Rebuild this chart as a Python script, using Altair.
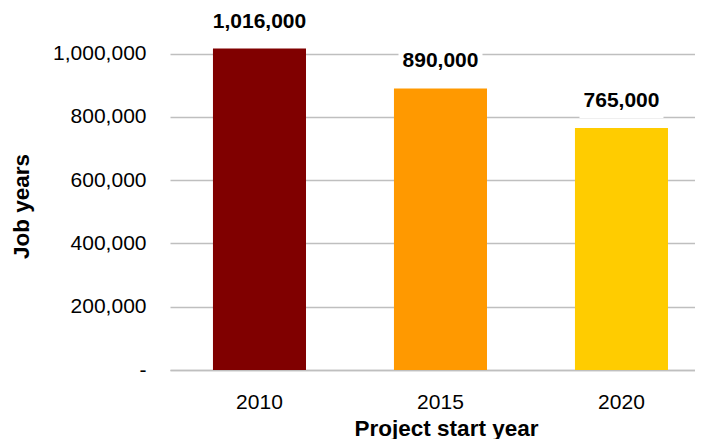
import altair as alt
import pandas as pd

years = ["2010", "2015", "2020"]
values = [1016000, 890000, 765000]
labels = ["1,016,000", "890,000", "765,000"]
colors = ["#800000", "#FF9900", "#FFCC00"]
y_ticks = [0, 200000, 400000, 600000, 800000, 1000000]

df = pd.DataFrame({"year": years, "value": values, "label": labels})

FONT = "Liberation Sans"
GRID = "#bfbfbf"

x_enc = alt.X(
    "year:N",
    sort=years,
    scale=alt.Scale(paddingInner=0.486, paddingOuter=0.1933, align=0.614),
    axis=alt.Axis(
        title="Project start year",
        labelAngle=0,
        labelFontSize=21,
        labelFont=FONT,
        labelColor="black",
        labelBaseline="alphabetic",
        labelPadding=38,
        ticks=False,
        tickSize=0,
        domain=True,
        domainColor=GRID,
        domainWidth=1.5,
        grid=False,
        titleFont=FONT,
        titleFontSize=22.5,
        titleFontWeight="bold",
        titleColor="black",
        titleBaseline="alphabetic",
        titleAlign="center",
        titleX=276,
        titleY=65,
    ),
)

y_scale = alt.Scale(domain=[0, 1100000], nice=False)

bars = alt.Chart(df).mark_bar().encode(
    x=x_enc,
    y=alt.Y(
        "value:Q",
        scale=y_scale,
        axis=alt.Axis(
            title="Job years",
            values=y_ticks,
            labelExpr="datum.value == 0 ? '-\u00a0\u00a0\u00a0\u00a0' : format(datum.value, ',')",
            labelFontSize=21,
            labelFont=FONT,
            labelColor="black",
            labelPadding=24,
            ticks=False,
            tickSize=0,
            domain=False,
            grid=True,
            gridColor=GRID,
            gridWidth=1.5,
            titleFont=FONT,
            titleFontSize=22.5,
            titleFontWeight="bold",
            titleColor="black",
            titleAngle=270,
            titleBaseline="alphabetic",
            titleAlign="center",
            titleX=-142,
            titleY=184,
        ),
    ),
    color=alt.Color("year:N", scale=alt.Scale(domain=years, range=colors), legend=None),
)

boxes = (
    alt.Chart(df)
    .transform_calculate(value2="datum.value", boxw="length(datum.label) * 11 + 7")
    .mark_bar(color="white", yOffset=-42, y2Offset=-10)
    .encode(
        x=alt.X("year:N", sort=years),
        y=alt.Y("value:Q", scale=y_scale),
        y2="value2:Q",
        size=alt.Size("boxw:Q", scale=None, legend=None),
    )
)

text = alt.Chart(df).mark_text(
    font=FONT, fontSize=21, fontWeight="bold", color="black",
    baseline="alphabetic", dy=-21,
).encode(
    x=alt.X("year:N", sort=years),
    y=alt.Y("value:Q", scale=y_scale),
    text="label:N",
)

chart = (
    alt.layer(bars, boxes, text)
    .properties(
        width=525,
        height=348,
        autosize=alt.AutoSizeParams(type="none"),
        padding={"left": 162, "top": 14, "right": 0, "bottom": 69},
    )
    .configure_view(stroke=None)
)

chart.save("out.html", embed_options={"renderer": "svg", "actions": False})
